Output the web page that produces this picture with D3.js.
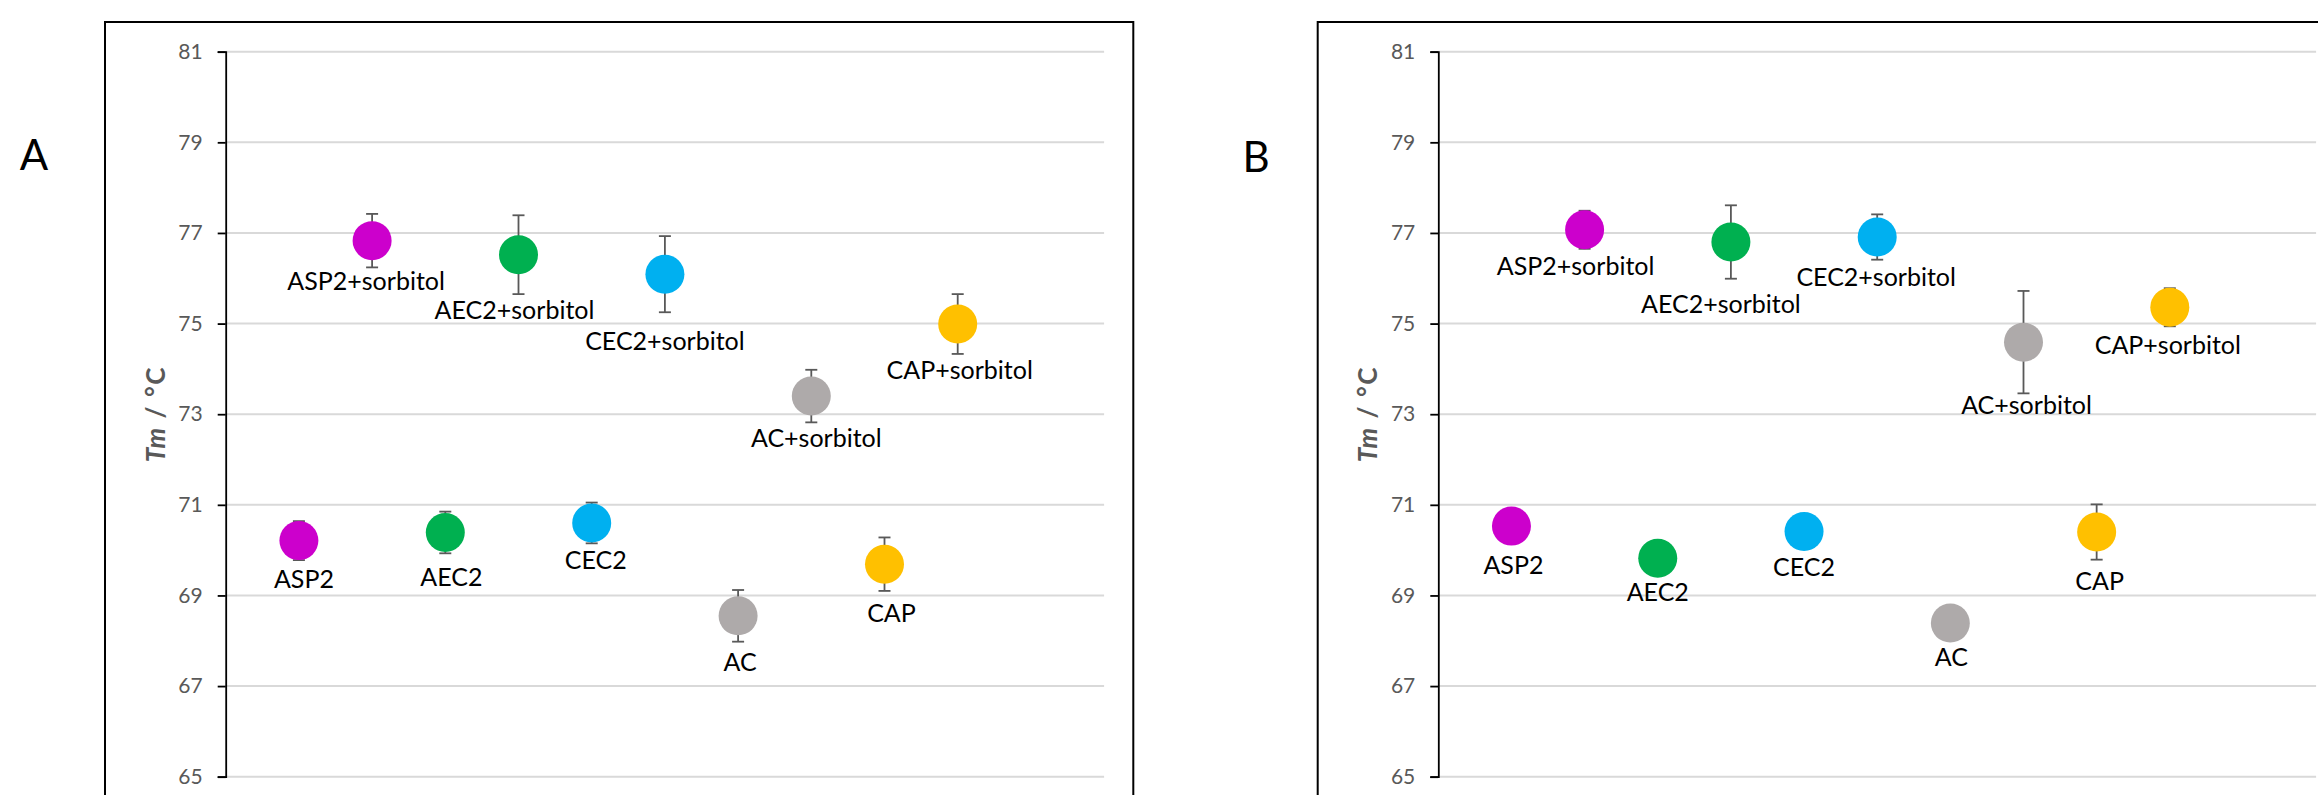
<!DOCTYPE html>
<html>
<head>
<meta charset="utf-8">
<script src="https://cdn.jsdelivr.net/npm/d3@7"></script>
<style>
  html, body { margin: 0; padding: 0; background: #ffffff; }
  svg { display: block; }
</style>
</head>
<body>
<svg id="chart" width="2318" height="795"></svg>
<script>
// ---------------- DATA ----------------
const categories = ["ASP2", "ASP2+sorbitol", "AEC2", "AEC2+sorbitol", "CEC2",
                    "CEC2+sorbitol", "AC", "AC+sorbitol", "CAP", "CAP+sorbitol"];
const xIndex = [1, 2, 3, 4, 5, 6, 7, 8, 9, 10];
const proteinGroup = ["ASP2", "ASP2", "AEC2", "AEC2", "CEC2", "CEC2", "AC", "AC", "CAP", "CAP"];

const tmA  = [70.21, 76.83, 70.39, 76.52, 70.60, 76.09, 68.55, 73.40, 69.69, 74.99];
const errA = [0.43, 0.59, 0.46, 0.87, 0.45, 0.84, 0.57, 0.58, 0.59, 0.66];

const tmB  = [70.53, 77.07, 69.82, 76.80, 70.41, 76.91, 68.39, 74.59, 70.40, 75.36];
const errB = [0.25, 0.42, 0.25, 0.81, 0.25, 0.50, 0.25, 1.13, 0.61, 0.42];

const yTicks = [65, 67, 69, 71, 73, 75, 77, 79, 81];
const yDomain = [65, 81];
const xDomain = [0, 12];
const panelLabels = ["A", "B"];
const axisTitleItalic = "Tm";
const axisTitleRest = " / °C";

// ---------------- STYLE / LAYOUT ----------------
const groupColors = {ASP2: "#CC00CC", AEC2: "#00B050", CEC2: "#00B0F0", AC: "#AEAAAA", CAP: "#FFC000"};

// manual data-label placement (pixel offsets of label baseline-centre from marker centre)
const labelDxA = [5, -6, 6, -4, 4, 0, 2, 5, 7, 2];
const labelDyA = [47, 49, 54, 64, 46, 76, 55, 51, 58, 55];
const labelDxB = [2, -9, 0, -10, 0, -1, 1, 3, 3, -2];
const labelDyB = [48, 45, 43, 71, 44, 49, 43, 72, 58, 47];

const panels = [
  {label: panelLabels[0], values: tmA, errors: errA, dx: labelDxA, dy: labelDyA,
   frameX: 105, axisX: 225.7, plotW: 878.4, labelX: 34, labelY: 170},
  {label: panelLabels[1], values: tmB, errors: errB, dx: labelDxB, dy: labelDyB,
   frameX: 1317.7, axisX: 1438.3, plotW: 877.8, labelX: 1256, labelY: 171.7}
];
const frameTop = 22, frameRight = [1133.3, 2400];
const plotTop = 51.7, plotBottom = 776.7;
const markerR = 19.5;

const svg = d3.select("#chart");

panels.forEach((p, pi) => {
  const g = svg.append("g");

  // frame
  g.append("rect")
    .attr("x", p.frameX).attr("y", frameTop)
    .attr("width", frameRight[pi] - p.frameX).attr("height", 900)
    .attr("fill", "none").attr("stroke", "#000").attr("stroke-width", 2);

  // panel label
  g.append("text")
    .attr("x", p.labelX).attr("y", p.labelY)
    .attr("text-anchor", "middle")
    .style("font-family", "Lato, 'Open Sans', sans-serif")
    .style("font-size", "42px")
    .attr("fill", "#000")
    .text(p.label);

  const x = d3.scaleLinear().domain(xDomain).range([p.axisX, p.axisX + p.plotW]);
  const y = d3.scaleLinear().domain(yDomain).range([plotBottom, plotTop]);

  // gridlines
  g.append("g")
    .selectAll("line").data(yTicks).join("line")
    .attr("x1", x(xDomain[0])).attr("x2", x(xDomain[1]))
    .attr("y1", d => y(d)).attr("y2", d => y(d))
    .attr("stroke", "#D9D9D9").attr("stroke-width", 2);

  // y axis
  const axis = g.append("g")
    .attr("transform", `translate(${p.axisX},0)`)
    .call(d3.axisLeft(y).tickValues(yTicks).tickSize(8).tickPadding(15).tickFormat(d3.format("d")));
  axis.select(".domain").attr("stroke", "#000").attr("stroke-width", 1.8);
  axis.selectAll(".tick line").attr("stroke", "#000").attr("stroke-width", 1.8);
  axis.selectAll(".tick text")
    .style("font-family", "Lato, 'Open Sans', sans-serif")
    .style("font-size", "21px")
    .attr("fill", "#595959");

  // axis title
  const title = g.append("text")
    .attr("transform", `translate(${p.axisX - 70},${(plotTop + plotBottom) / 2}) rotate(-90)`)
    .attr("text-anchor", "middle")
    .attr("dy", "0.35em")
    .style("font-family", "Lato, 'Open Sans', sans-serif")
    .style("font-size", "26px")
    .style("font-weight", "bold")
    .style("letter-spacing", "1.5px")
    .style("white-space", "pre")
    .attr("fill", "#595959");
  title.append("tspan").style("font-style", "italic").text(axisTitleItalic);
  title.append("tspan").text(axisTitleRest);

  const rows = categories.map((c, i) => ({
    name: c, xi: xIndex[i], v: p.values[i], e: p.errors[i],
    color: groupColors[proteinGroup[i]], dx: p.dx[i], dy: p.dy[i]
  }));

  // error bars
  const eb = g.append("g").selectAll("g").data(rows).join("g")
    .attr("stroke", "#595959").attr("stroke-width", 1.8);
  eb.append("line")
    .attr("x1", d => x(d.xi)).attr("x2", d => x(d.xi))
    .attr("y1", d => y(d.v - d.e)).attr("y2", d => y(d.v + d.e));
  eb.append("line")
    .attr("x1", d => x(d.xi) - 6).attr("x2", d => x(d.xi) + 6)
    .attr("y1", d => y(d.v + d.e)).attr("y2", d => y(d.v + d.e));
  eb.append("line")
    .attr("x1", d => x(d.xi) - 6).attr("x2", d => x(d.xi) + 6)
    .attr("y1", d => y(d.v - d.e)).attr("y2", d => y(d.v - d.e));

  // markers
  g.append("g").selectAll("circle").data(rows).join("circle")
    .attr("cx", d => x(d.xi)).attr("cy", d => y(d.v))
    .attr("r", markerR)
    .attr("fill", d => d.color);

  // data labels
  g.append("g").selectAll("text").data(rows).join("text")
    .attr("x", d => x(d.xi) + d.dx).attr("y", d => y(d.v) + d.dy)
    .attr("text-anchor", "middle")
    .style("font-family", "Lato, 'Open Sans', sans-serif")
    .style("font-size", "25px")
    .attr("fill", "#000")
    .text(d => d.name);
});
</script>
</body>
</html>
